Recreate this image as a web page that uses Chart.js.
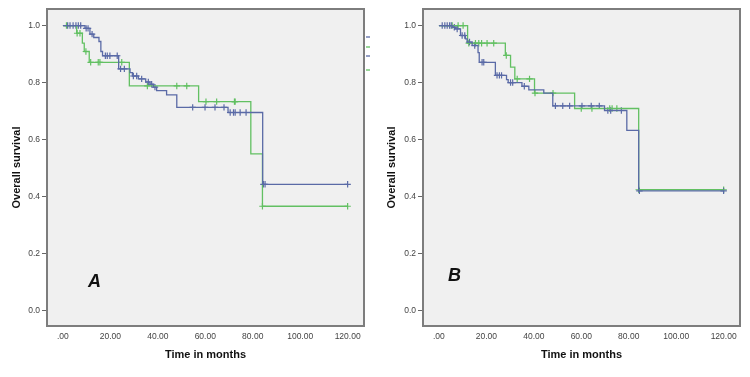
<!DOCTYPE html>
<html>
<head>
<meta charset="utf-8">
<script src="https://cdn.jsdelivr.net/npm/chart.js@4.4.1/dist/chart.umd.min.js"></script>
<style>
  body { margin: 0; background: #fff; }
  .panel { position: absolute; top: 0; width: 375px; height: 377px; }
</style>
</head>
<body>
<div class="panel" style="left:0"><canvas id="chart-a" width="375" height="377"></canvas></div>
<div class="panel" style="left:375px"><canvas id="chart-b" width="375" height="377"></canvas></div>
<script>
// tick positions
const xTicks = [0, 20, 40, 60, 80, 100, 120];
const yTicks = [0, 0.2, 0.4, 0.6, 0.8, 1.0];

// panel A - event times and survival after each step
const aBlueTime = [0, 9.3, 11.4, 13.0, 15.2, 16.0, 16.7, 23.5, 28.3, 29.3, 31.8, 34.9, 36.7, 38.1, 39.5, 43.7, 48.0, 69.6, 84.2, 120];
const aBlueSurv = [1.0, 0.99, 0.97, 0.958, 0.944, 0.909, 0.894, 0.848, 0.835, 0.823, 0.813, 0.802, 0.794, 0.784, 0.772, 0.757, 0.713, 0.695, 0.443, 0.443];
const aBlueCensor = [2, 3, 4.3, 5.5, 6.5, 7.5, 9.8, 10.6, 12.3, 17.9, 18.7, 19.8, 22.9, 24.3, 25.9, 29.7, 31.1, 33.2, 36, 37.4, 38.8, 54.7, 59.9, 64.1, 67.9, 70.5, 71.9, 72.6, 74.7, 77.2, 84.5, 85.2, 120];

const aGreenTime = [0, 5.8, 8.2, 9.0, 11.1, 28.0, 57.2, 79.2, 84.1, 120];
const aGreenSurv = [1.0, 0.973, 0.938, 0.909, 0.871, 0.788, 0.733, 0.55, 0.366, 0.366];
const aGreenCensor = [1.5, 6.0, 7.2, 9.7, 11.7, 14.9, 15.6, 24.8, 35.6, 48.0, 52.2, 60.3, 64.8, 72.3, 72.6, 84.1, 120];

// panel B
const bBlueTime = [0, 5.9, 7.0, 9.1, 11.2, 11.9, 14.0, 16.5, 17.0, 23.8, 28.5, 29.2, 35.0, 37.9, 44.2, 48.0, 69.8, 79.2, 84.2, 120];
const bBlueSurv = [1.0, 0.994, 0.988, 0.965, 0.953, 0.942, 0.930, 0.905, 0.871, 0.825, 0.81, 0.80, 0.787, 0.774, 0.763, 0.718, 0.702, 0.632, 0.42, 0.42];
const bBlueCensor = [1.4, 2.5, 3.5, 4.5, 5.2, 6.5, 7.7, 9.8, 10.9, 12.9, 15.1, 18.2, 18.9, 24.5, 25.5, 26.4, 30.2, 31.1, 36.0, 49.1, 52.2, 55.1, 60.3, 64.2, 67.6, 71.2, 72.4, 76.9, 84.5, 120];

const bGreenTime = [0, 12.1, 28.0, 30.2, 32.0, 40.3, 57.2, 84.2, 120];
const bGreenSurv = [1.0, 0.938, 0.895, 0.854, 0.813, 0.763, 0.709, 0.424, 0.424];
const bGreenCensor = [5.6, 8.1, 10.2, 12.6, 15.4, 16.8, 18.0, 20.3, 23.1, 28.4, 33.0, 38.2, 40.5, 48.1, 60.0, 64.5, 72.0, 73.0, 75.0, 84.2, 120];

const BLUE = '#5a6aa6';
const GREEN = '#62c062';
const FONT = '"Liberation Sans", Arial, sans-serif';

// survival value at time t
function survAt(times, surv, t) {
    let v = surv[0];
    for (let i = 0; i < times.length; i++) {
        if (times[i] <= t) v = surv[i];
    }
    return v;
}

function curve(times, surv, color) {
    return {
        data: times.map((t, i) => ({ x: t, y: surv[i] })),
        borderColor: color,
        borderWidth: 1.3,
        stepped: 'before',
        pointRadius: 0,
        fill: false
    };
}

function censors(times, surv, censorTimes, color) {
    return {
        data: censorTimes.map(t => ({ x: t, y: survAt(times, surv, t) })),
        showLine: false,
        borderColor: color,
        borderWidth: 1.2,
        pointStyle: 'cross',
        pointRadius: 3.2,
        pointHoverRadius: 3.2
    };
}

const frame = {
    id: 'frame',
    beforeDraw(chart) {
        const { ctx, chartArea: a } = chart;
        ctx.save();
        ctx.fillStyle = '#f0f0f0';
        ctx.fillRect(a.left, a.top, a.right - a.left, a.bottom - a.top);
        ctx.restore();
    },
    afterDraw(chart) {
        const { ctx, chartArea: a, scales } = chart;
        const opt = chart.options.plugins.frame;
        ctx.save();
        ctx.strokeStyle = '#7d7d7d';
        ctx.lineWidth = 2;
        ctx.strokeRect(a.left, a.top, a.right - a.left, a.bottom - a.top);
        // cut-off legend stubs peeking in at the right edge
        (opt.stubs || []).forEach((c, i) => {
            ctx.strokeStyle = c;
            ctx.lineWidth = 1.3;
            const y = a.top + 28 + [0, 10, 19, 33][i];
            ctx.beginPath();
            ctx.moveTo(a.right + 2, y);
            ctx.lineTo(a.right + 6, y);
            ctx.stroke();
        });
        if (opt.letter) {
            ctx.fillStyle = '#111';
            ctx.font = 'italic bold 18px ' + FONT;
            ctx.textAlign = 'center';
            ctx.textBaseline = 'middle';
            ctx.fillText(opt.letter, scales.x.getPixelForValue(opt.lx), scales.y.getPixelForValue(opt.ly));
        }
        ctx.restore();
    }
};

function makeChart(id, datasets, letter, lx, ly, left, stubs) {
    return new Chart(document.getElementById(id), {
        type: 'line',
        data: { datasets: datasets },
        options: {
            responsive: false,
            animation: false,
            devicePixelRatio: 1,
            layout: { padding: { top: 9, right: 375 - 364 - (left - 47), left: 0, bottom: 0 } },
            plugins: {
                legend: { display: false },
                tooltip: { enabled: false },
                frame: { letter: letter, lx: lx, ly: ly, stubs: stubs }
            },
            scales: {
                x: {
                    type: 'linear',
                    min: -6.7,
                    max: 126.9,
                    afterBuildTicks: s => { s.ticks = xTicks.map(v => ({ value: v })); },
                    afterFit: s => { s.height = 51; },
                    grid: { display: false, drawTicks: false },
                    border: { display: false },
                    ticks: {
                        padding: 6,
                        color: '#444',
                        font: { family: FONT, size: 8.5 },
                        maxRotation: 0,
                        callback: v => v === 0 ? '.00' : v.toFixed(2)
                    },
                    title: {
                        display: true,
                        text: 'Time in months',
                        color: '#111',
                        font: { family: FONT, size: 11, weight: 'bold' },
                        padding: { top: 0, bottom: 15 }
                    }
                },
                y: {
                    min: -0.054,
                    max: 1.058,
                    afterBuildTicks: s => { s.ticks = yTicks.map(v => ({ value: v })); },
                    afterFit: s => { s.width = left; },
                    grid: { drawOnChartArea: false, drawTicks: true, tickLength: 5, color: '#666' },
                    border: { display: false },
                    ticks: {
                        padding: 2,
                        color: '#444',
                        font: { family: FONT, size: 8.5 },
                        callback: v => v.toFixed(1)
                    },
                    title: {
                        display: true,
                        text: 'Overall survival',
                        color: '#111',
                        font: { family: FONT, size: 11, weight: 'bold' },
                        padding: { top: 10, bottom: 0 }
                    }
                }
            }
        },
        plugins: [frame]
    });
}

makeChart('chart-a', [
    curve(aBlueTime, aBlueSurv, BLUE),
    curve(aGreenTime, aGreenSurv, GREEN),
    censors(aBlueTime, aBlueSurv, aBlueCensor, BLUE),
    censors(aGreenTime, aGreenSurv, aGreenCensor, GREEN)
], 'A', 13.3, 0.1, 47, [BLUE, GREEN, BLUE, GREEN]);

makeChart('chart-b', [
    curve(bBlueTime, bBlueSurv, BLUE),
    curve(bGreenTime, bGreenSurv, GREEN),
    censors(bBlueTime, bBlueSurv, bBlueCensor, BLUE),
    censors(bGreenTime, bGreenSurv, bGreenCensor, GREEN)
], 'B', 6.6, 0.12, 48, []);
</script>
</body>
</html>
